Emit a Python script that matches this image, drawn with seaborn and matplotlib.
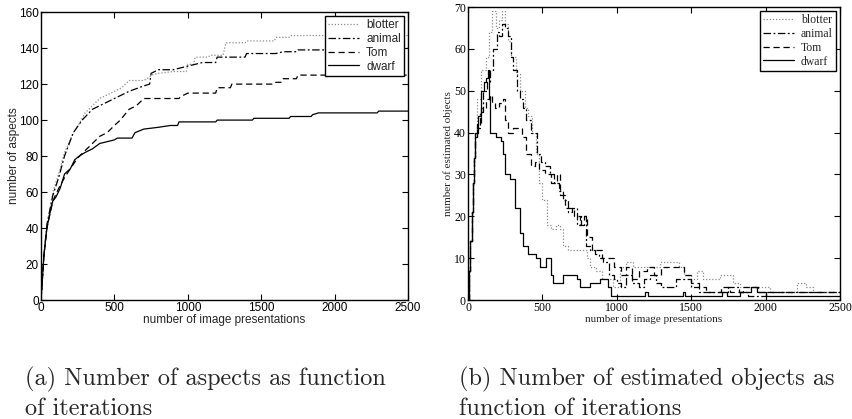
import matplotlib
matplotlib.use("Agg")
import matplotlib.pyplot as plt
import seaborn as sns
import pandas as pd

# ---------------- data: (a) number of aspects ----------------
series_names = ["blotter", "animal", "Tom", "dwarf"]

a_blotter_x = [0, 20, 40, 80, 120, 160, 220, 260, 300, 350, 400, 450, 500, 550, 600, 700, 740, 750, 800, 900, 990, 1000, 1040, 1050, 1140, 1150, 1240, 1260, 1390, 1400, 1590, 1600, 1690, 1700, 2500]
a_blotter_y = [0, 25, 40, 60, 70, 82, 93, 98, 104, 108, 112, 114, 116, 118, 122, 122, 124, 125, 126, 127, 127, 131, 131, 135, 135, 136, 136, 143, 143, 144, 144, 146, 146, 147, 147]

a_animal_x = [0, 20, 40, 80, 120, 160, 220, 280, 350, 400, 450, 500, 550, 600, 700, 740, 750, 800, 900, 950, 1000, 1100, 1190, 1200, 1390, 1400, 1600, 1650, 1740, 1750, 1940, 1950, 2500]
a_animal_y = [0, 25, 42, 58, 68, 80, 93, 100, 106, 108, 110, 112, 114, 116, 119, 120, 126, 128, 128, 129, 130, 132, 132, 135, 135, 137, 137, 138, 138, 139, 139, 140, 140]

a_tom_x = [0, 20, 40, 80, 120, 160, 200, 250, 300, 350, 400, 450, 500, 540, 600, 650, 700, 940, 950, 1000, 1190, 1200, 1290, 1300, 1590, 1600, 1640, 1650, 1740, 1750, 2500]
a_tom_y = [0, 25, 40, 55, 62, 68, 73, 79, 83, 87, 91, 93, 97, 100, 106, 108, 112, 112, 113, 115, 115, 118, 118, 120, 120, 121, 121, 123, 123, 125, 125]

a_dwarf_x = [0, 20, 40, 60, 80, 100, 130, 160, 200, 230, 260, 300, 350, 400, 500, 520, 620, 640, 700, 800, 880, 930, 940, 1190, 1200, 1440, 1450, 1690, 1700, 1840, 1850, 1890, 2290, 2300, 2500]
a_dwarf_y = [0, 25, 40, 48, 55, 57, 62, 70, 73, 78, 80, 82, 84, 87, 89, 90, 90, 93, 95, 96, 97, 97, 99, 99, 100, 100, 101, 101, 102, 102, 103, 104, 104, 105, 105]

# ---------------- data: (b) number of estimated objects ----------------
b_blotter_x = [0, 8, 16, 24, 32, 40, 50, 60, 90, 118, 140, 160, 185, 210, 226, 250, 270, 290, 320, 350, 380, 400, 430, 460, 480, 500, 530, 560, 590, 620, 640, 670, 720, 770, 800, 820, 860, 900, 930, 975, 1020, 1060, 1110, 1160, 1240, 1290, 1380, 1420, 1450, 1500, 1540, 1580, 1690, 1740, 1780, 1830, 1990, 2030, 2140, 2210, 2270, 2320, 2500]
b_blotter_y = [0, 7, 14, 21, 28, 34, 40, 48, 55, 58, 64, 69, 65, 67, 69, 66, 62, 58, 54, 50, 46, 44, 40, 35, 28, 24, 18, 17, 18, 17, 13, 12, 12, 12, 10, 8, 7, 5, 5, 3, 8, 9, 8, 8, 8, 9, 9, 8, 6, 5, 7, 5, 6, 6, 4, 3, 3, 2, 2, 4, 3, 2, 2]

b_animal_x = [0, 8, 16, 24, 32, 40, 50, 60, 80, 100, 130, 148, 170, 195, 210, 226, 250, 271, 290, 302, 330, 350, 370, 390, 420, 463, 490, 520, 550, 580, 610, 640, 670, 700, 730, 760, 790, 820, 850, 880, 910, 950, 980, 1000, 1030, 1060, 1100, 1150, 1180, 1220, 1260, 1300, 1350, 1400, 1450, 1500, 1550, 1650, 1750, 1820, 1880, 1950, 2000, 2500]
b_animal_y = [0, 7, 14, 21, 28, 34, 39, 41, 45, 50, 52, 55, 60, 64, 63, 66, 65, 63, 58, 55, 50, 48, 46, 43, 40, 35, 33, 32, 30, 28, 26, 24, 21, 22, 18, 20, 13, 12, 11, 10, 9, 6, 5, 4, 3, 6, 4, 3, 5, 6, 4, 3, 3, 5, 5, 3, 2, 2, 3, 2, 1, 1, 2, 2]

b_tom_x = [0, 8, 16, 24, 32, 40, 50, 60, 90, 120, 150, 160, 180, 210, 235, 250, 270, 300, 330, 360, 390, 420, 450, 480, 520, 560, 600, 620, 650, 680, 710, 750, 780, 800, 830, 870, 900, 950, 980, 1030, 1060, 1100, 1150, 1200, 1250, 1300, 1440, 1450, 1500, 1550, 1600, 1700, 1760, 1850, 1950, 2500]
b_tom_y = [0, 7, 14, 21, 28, 34, 39, 42, 46, 48, 49, 47, 46, 47, 48, 43, 40, 41, 41, 39, 35, 32, 33, 31, 30, 28, 30, 25, 22, 22, 20, 18, 20, 15, 12, 12, 10, 10, 8, 6, 8, 5, 7, 8, 6, 8, 8, 6, 4, 3, 2, 3, 2, 3, 2, 2]

b_dwarf_x = [0, 8, 16, 24, 32, 40, 50, 67, 90, 110, 123, 134, 140, 146, 168, 191, 224, 235, 247, 280, 300, 314, 347, 370, 404, 460, 482, 527, 560, 572, 639, 729, 751, 818, 886, 942, 964, 1188, 1210, 1446, 1460, 1704, 1737, 1827, 1900, 1939, 2000, 2500]
b_dwarf_y = [0, 7, 14, 21, 28, 34, 40, 44, 50, 52, 53, 55, 48, 40, 40, 39, 38, 35, 30, 29, 29, 22, 16, 13, 11, 10, 8, 10, 6, 4, 6, 5, 3, 4, 5, 3, 1, 2, 1, 2, 1, 2, 1, 2, 3, 2, 1, 1]

a_xticks = [0, 500, 1000, 1500, 2000, 2500]
a_yticks = [0, 20, 40, 60, 80, 100, 120, 140, 160]
b_xticks = [0, 500, 1000, 1500, 2000, 2500]
b_yticks = [0, 10, 20, 30, 40, 50, 60, 70]

caption_a = ["(a) Number of aspects as function", "of iterations"]
caption_b = ["(b) Number of estimated objects as", "function of iterations"]

# ---------------- styling ----------------
sns.set_theme(style="ticks")
plt.rcParams["font.family"] = ["Liberation Sans", "DejaVu Sans"]

styles = {
    "blotter": dict(color="#8a8a8a", linestyle=(0, (1, 1.5))),
    "animal": dict(color="black", linestyle=(0, (6, 2, 1.5, 2))),
    "Tom": dict(color="black", linestyle=(0, (5, 3))),
    "dwarf": dict(color="black", linestyle="-"),
}

fig = plt.figure(figsize=(8.53, 4.19), dpi=100)
ax1 = fig.add_axes([0.0481, 0.284, 0.4302, 0.687])
ax2 = fig.add_axes([0.5487, 0.284, 0.4361, 0.699])

a_data = {"blotter": (a_blotter_x, a_blotter_y), "animal": (a_animal_x, a_animal_y),
          "Tom": (a_tom_x, a_tom_y), "dwarf": (a_dwarf_x, a_dwarf_y)}
b_data = {"blotter": (b_blotter_x, b_blotter_y), "animal": (b_animal_x, b_animal_y),
          "Tom": (b_tom_x, b_tom_y), "dwarf": (b_dwarf_x, b_dwarf_y)}

for ax, data, ds in ((ax1, a_data, "default"), (ax2, b_data, "steps-post")):
    for name in series_names:
        xs, ys = data[name]
        df = pd.DataFrame({"x": xs, "y": ys})
        sns.lineplot(data=df, x="x", y="y", ax=ax, label=name, estimator=None,
                     sort=False, drawstyle=ds, linewidth=0.9, **styles[name])

def style_axes(ax, xticks, yticks, ylim, family, fs, xlabel, ylabel, lfs, ylpad):
    ax.set_xlim(0, 2500)
    ax.set_ylim(*ylim)
    ax.set_xticks(xticks)
    ax.set_yticks(yticks)
    ax.tick_params(direction="in", top=True, right=True, length=4, width=0.8,
                   pad=1.5, labelsize=fs, colors="black")
    for lab in ax.get_xticklabels() + ax.get_yticklabels():
        lab.set_family(family)
    for sp in ax.spines.values():
        sp.set_visible(True)
        sp.set_linewidth(1.0)
        sp.set_color("black")
    ax.set_xlabel(xlabel, family=family, fontsize=lfs, labelpad=0)
    ax.set_ylabel(ylabel, family=family, fontsize=lfs, labelpad=ylpad)
    leg = ax.legend(loc="upper right", frameon=True, fancybox=False, edgecolor="black",
                    framealpha=1, handlelength=2.6, borderaxespad=0.3, labelspacing=0.15,
                    borderpad=0.3, handletextpad=0.6, prop={"family": family, "size": fs})
    leg.get_frame().set_linewidth(1.0)

style_axes(ax1, a_xticks, a_yticks, (0, 160), ["Liberation Sans", "DejaVu Sans"], 8.5,
           "number of image presentations", "number of aspects", 8.5, -1)
style_axes(ax2, b_xticks, b_yticks, (0, 70), ["Liberation Serif", "DejaVu Serif"], 8.5,
           "number of image presentations", "number of estimated objects", 8, 1)

cap_fs = 17.5
fig.text(25 / 853, 1 - 385 / 419, caption_a[0], family="cmr10", fontsize=cap_fs, va="baseline")
fig.text(25 / 853, 1 - 415 / 419, caption_a[1], family="cmr10", fontsize=cap_fs, va="baseline")
fig.text(459 / 853, 1 - 385 / 419, caption_b[0], family="cmr10", fontsize=cap_fs, va="baseline")
fig.text(459 / 853, 1 - 415 / 419, caption_b[1], family="cmr10", fontsize=cap_fs, va="baseline")

fig.savefig("out.png", dpi=100, facecolor="white")
